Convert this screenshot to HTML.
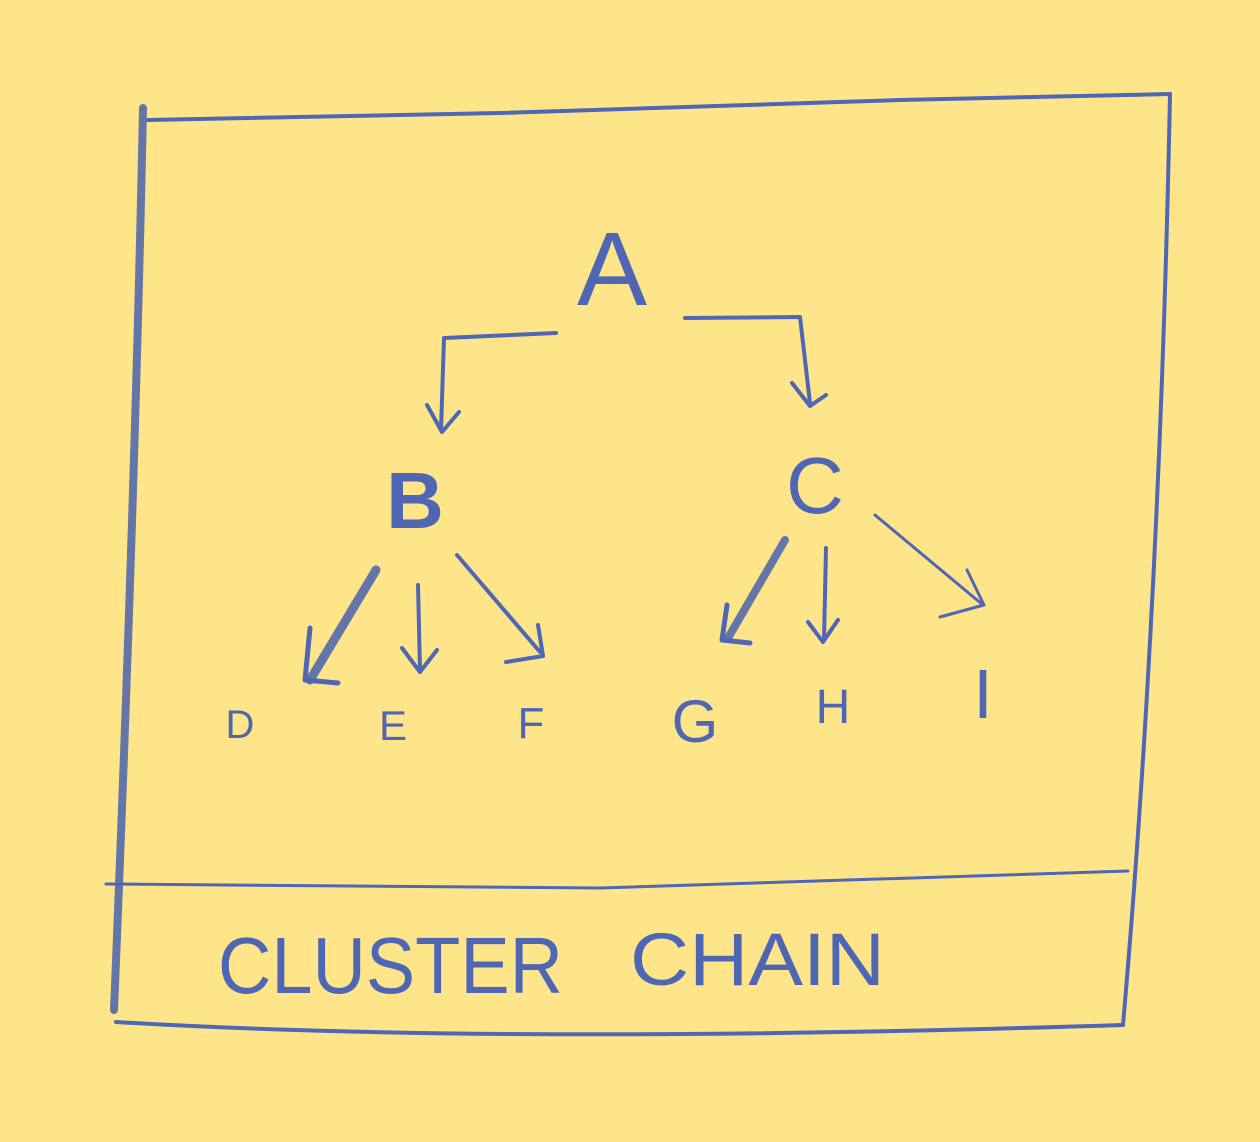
<!DOCTYPE html>
<html><head><style>
html,body{margin:0;padding:0;background:#FEE58A;}
svg{display:block}
text{font-family:"Liberation Sans",sans-serif;fill:#4F66B5;}
</style></head><body>
<svg width="1260" height="1142" viewBox="0 0 1260 1142" xmlns="http://www.w3.org/2000/svg">
<rect width="1260" height="1142" fill="#FEE58A"/>
<g fill="none" stroke="#4F66B5" stroke-linecap="round" stroke-linejoin="round">
<path d="M143 108 Q135 500 114 1010" stroke-width="8" stroke="#6675A8"/>
<path d="M148 120 L500 113 L900 100 L1170 94" stroke-width="4"/>
<path d="M1170 94 Q1160 600 1123 1025" stroke-width="4"/>
<path d="M106 884 L600 888 L1128 871" stroke-width="3"/>
<path d="M116 1022 Q500 1045 1123 1025" stroke-width="4"/>
<path d="M556 333 L444 338 L441 430" stroke-width="4"/>
<path d="M427 405 L442 432 L459 412" stroke-width="4"/>
<path d="M685 318 L800 317 L810 403" stroke-width="4"/>
<path d="M792 383 L810 406 L826 395" stroke-width="4"/>
<path d="M376 570 L310 680" stroke-width="9" stroke="#6675A8"/>
<path d="M310 628 L305 680 L338 683" stroke-width="5"/>
<path d="M418 585 L420 670" stroke-width="4"/>
<path d="M402 648 L420 672 L437 650" stroke-width="4"/>
<path d="M457 555 L540 652" stroke-width="4"/>
<path d="M506 662 L543 656 L538 625" stroke-width="4"/>
<path d="M785 540 L728 638" stroke-width="8" stroke="#6675A8"/>
<path d="M727 605 L722 640 L750 643" stroke-width="5"/>
<path d="M826 548 L824 640" stroke-width="4"/>
<path d="M808 622 L823 642 L838 620" stroke-width="4"/>
<path d="M875 515 L983 605" stroke-width="3"/>
<path d="M940 617 L984 605 L967 570" stroke-width="3"/>
</g>
<text x="612" y="305" font-size="105" text-anchor="middle">A</text>
<text x="415" y="528" font-size="80" text-anchor="middle" font-weight="bold">B</text>
<text x="815" y="513" font-size="80" text-anchor="middle">C</text>
<text x="240" y="738" font-size="40" text-anchor="middle">D</text>
<text x="393" y="740" font-size="42" text-anchor="middle">E</text>
<text x="531" y="738" font-size="44" text-anchor="middle">F</text>
<text x="695" y="742" font-size="60" text-anchor="middle">G</text>
<text x="833" y="723" font-size="48" text-anchor="middle">H</text>
<text x="983" y="718" font-size="70" text-anchor="middle">I</text>
<text x="218" y="993" font-size="80" textLength="345" lengthAdjust="spacingAndGlyphs">CLUSTER</text>
<text x="630" y="985" font-size="74" textLength="255" lengthAdjust="spacingAndGlyphs">CHAIN</text>
</svg>
</body></html>
